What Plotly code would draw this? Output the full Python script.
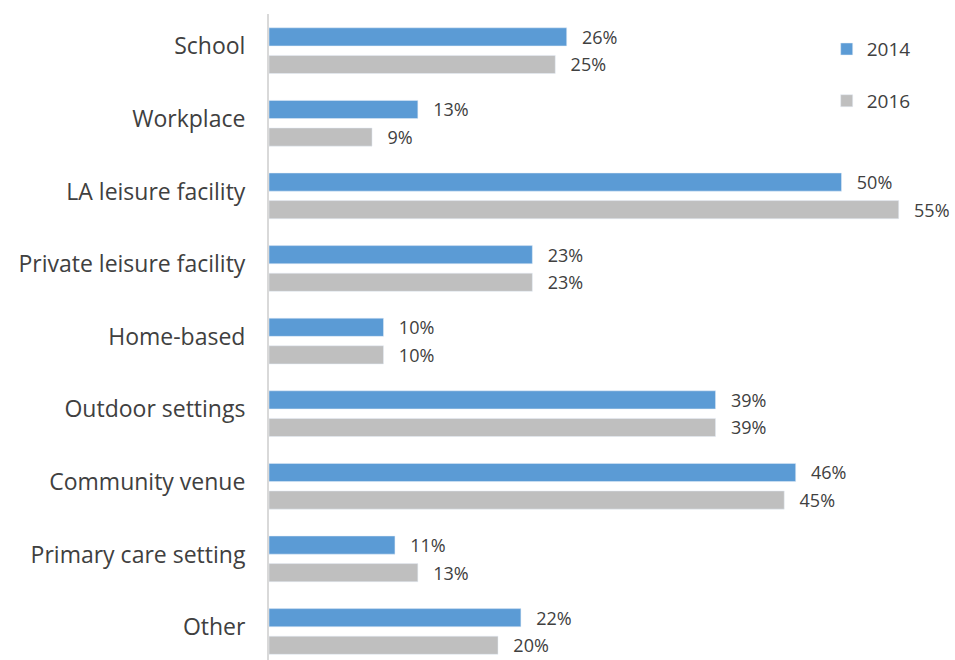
import plotly.graph_objects as go

categories = ["School", "Workplace", "LA leisure facility", "Private leisure facility",
              "Home-based", "Outdoor settings", "Community venue",
              "Primary care setting", "Other"]
values_2014 = [26, 13, 50, 23, 10, 39, 46, 11, 22]
values_2016 = [25, 9, 55, 23, 10, 39, 45, 13, 20]

BLUE = "#5B9BD5"
GREY = "#BFBFBF"
TEXT = "#404040"
FONT = "Open Sans"

pos = list(range(len(categories)))
pad = "\u00a0\u00a0\u2009"

fig = go.Figure()
fig.add_trace(go.Bar(
    y=pos, x=values_2014, orientation="h", name="2014",
    marker_color=BLUE, width=0.25, offset=-0.31,
    text=[f"{pad}{v}%" for v in values_2014], textposition="outside",
    textfont=dict(size=18, color=TEXT, family=FONT), constraintext="none",
    cliponaxis=False, legendgroup="a",
))
fig.add_trace(go.Bar(
    y=pos, x=values_2016, orientation="h", name="2016",
    marker_color=GREY, width=0.25, offset=0.07,
    text=[f"{pad}{v}%" for v in values_2016], textposition="outside",
    textfont=dict(size=18, color=TEXT, family=FONT), constraintext="none",
    cliponaxis=False, legendgroup="b",
))

fig.update_layout(
    width=955, height=660,
    margin=dict(l=269, r=10, t=14, b=0),
    plot_bgcolor="white", paper_bgcolor="white",
    font=dict(family=FONT, color=TEXT),
    barmode="overlay",
    showlegend=True,
    legend=dict(
        x=0.825, y=0.975, xanchor="left", yanchor="top",
        font=dict(size=19, color=TEXT, family=FONT),
        tracegroupgap=24, traceorder="grouped",
        bgcolor="rgba(0,0,0,0)",
    ),
)
fig.update_xaxes(range=[0, 59.04], visible=False)
# category labels sit slightly above the middle of each bar pair
fig.update_yaxes(
    range=[8.398, -0.5], tickvals=[p - 0.055 for p in pos], ticktext=categories,
    tickfont=dict(size=23, color=TEXT, family=FONT),
    showline=True, linecolor="#D9D9D9", linewidth=2,
    showgrid=False, zeroline=False, ticks="", ticklabelstandoff=17,
)

fig.write_html("out.html")
